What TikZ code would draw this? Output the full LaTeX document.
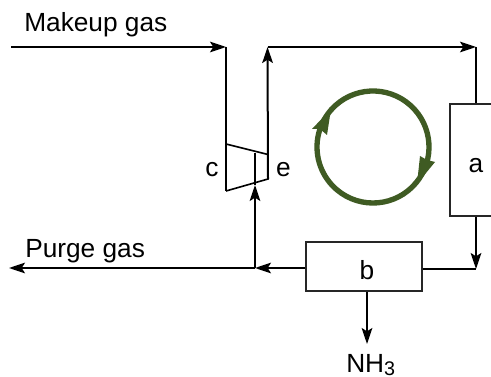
\documentclass[tikz,border=0pt]{standalone}
\usepackage{fontspec}
\setmainfont{Liberation Sans}
\usetikzlibrary{arrows.meta,calc}
\definecolor{loopgreen}{HTML}{3F5B23}
\tikzset{
  pipe/.style={line width=1.5pt,draw=black},
  flow/.style={pipe,-{Stealth[length=12pt,width=8pt,inset=2.5pt]}},
  unit/.style={draw=black!85,line width=1.1pt,inner sep=0pt,fill=white},
  lab/.style={inner sep=0pt,anchor=base,font=\fontsize{19.7pt}{22pt}\selectfont},
  machine/.style={draw=black,line width=1.2pt},
  loopline/.style={draw=loopgreen,line width=4pt,line cap=round},
  loophead/.style={fill=loopgreen,draw=none}
}
\begin{document}
\begin{tikzpicture}[x=0.75pt,y=-0.75pt]
\clip (0,0) rectangle (491,377);
\fill[white] (0,0) rectangle (491,377);
% free ends and junctions
\coordinate (inS) at (11,47);
\coordinate (inE) at (226,47);
\coordinate (cBot) at (226,191);
\coordinate (cTop) at (226,144);
\coordinate (eTop) at (268,154.5);
\coordinate (eBot) at (268,179);
\coordinate (outC) at (267.5,47);
\coordinate (topR) at (476,47);
\coordinate (merge) at (476,269);
\coordinate (tee) at (255,268);
\coordinate (purgeE) at (9,268);
\coordinate (shaft) at (255,153);
\coordinate (shaftIn) at (255,185);
\coordinate (nhTip) at (367,344);
% units
\node[unit,minimum width=39pt,minimum height=84pt] (a) at (476,160) {};
\node[lab] (alab) at (476,173) {a};
\node[unit,minimum width=87pt,minimum height=36.75pt] (b) at (364,266.5) {};
\node[lab] (blab) at (367,279) {b};
% labels
\node[lab,anchor=base west] (mk) at (24,32) {Makeup gas};
\node[lab,anchor=base west] (pg) at (25,257) {Purge gas};
\node[lab] (c) at (212,177) {c};
\node[lab] (e) at (283.5,177) {e};
\node[lab,anchor=base west] (nh) at (346,372) {NH\raisebox{-2.5pt}{\fontsize{14.8pt}{16pt}\selectfont 3}};
% compressor
\draw[machine] (cTop) -- (eTop) -- (eBot) -- (cBot);
\draw[pipe] (inE) -- (cBot);
% connectors
\draw[flow] (inS) -- (inE);
\draw[flow] (eBot) -- (outC);
\draw[flow] (outC) -- (topR);
\draw[pipe] (topR) -- (a.north -| topR);
\draw[flow] (a.south -| topR) -- (merge);
\draw[pipe] (b.east |- merge) -- (merge);
\draw[flow] (b.west |- tee) -- (tee);
\draw[flow] (tee) -- (purgeE);
\draw[flow] (tee) -- (shaftIn);
\draw[pipe] (shaftIn) -- (shaft);
\draw[flow] (b.south -| nhTip) -- (nhTip);
% recycle loop
\coordinate (loopC) at (373,147);
\draw[loopline] ($(loopC)+(40:56)$) arc[start angle=-40,end angle=-222,radius=42pt];
\draw[loopline] ($(loopC)+(222:56)$) arc[start angle=-222,end angle=-400,radius=42pt];
\fill[loophead] (331,109) -- (312,129) -- (320,129) -- (327,135) -- cycle;
\fill[loophead] (417,184) -- (420,156) -- (427,160) -- (435,162) -- cycle;
\end{tikzpicture}
\end{document}
